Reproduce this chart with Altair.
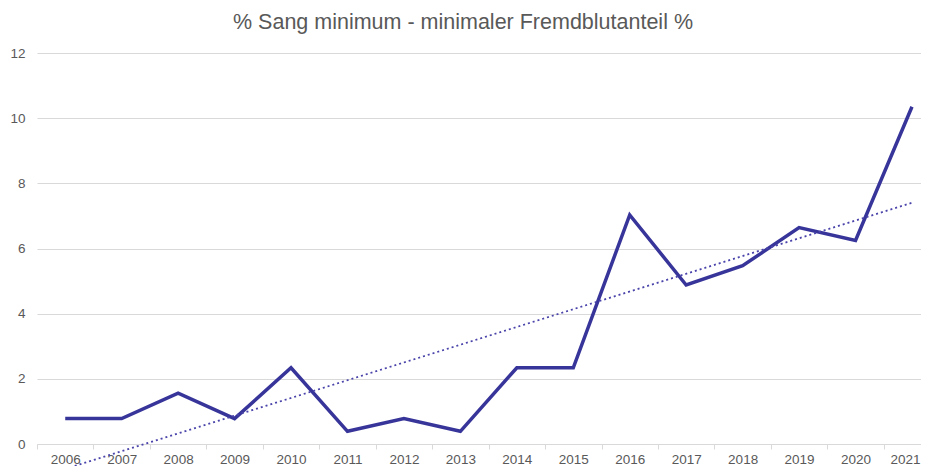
import altair as alt
import pandas as pd

years = list(range(2006, 2022))
values = [0.78, 0.78, 1.56, 0.78, 2.34, 0.39, 0.78, 0.39, 2.34, 2.34,
          7.03, 4.88, 5.47, 6.64, 6.25, 10.35]
y_ticks = [0, 2, 4, 6, 8, 10, 12]
chart_title = "% Sang minimum - minimaler Fremdblutanteil %"

df = pd.DataFrame({"year": years, "value": values})

FONT = "Liberation Sans"
GRAY = "#595959"
GRID = "#d9d9d9"
LINE = "#38359a"

W = 884
STEP = 56.45
HALF = STEP / 2

x_enc = alt.X(
    "year:Q",
    title=None,
    scale=alt.Scale(domain=[2005.5, 2005.5 + W / STEP], nice=False, zero=False),
    axis=alt.Axis(
        values=years, format="d", labelAngle=0, domainColor=GRID, tickColor=GRID,
        tickSize=5, labelColor=GRAY, labelFontSize=13.5, labelFont=FONT,
        labelPadding=3, grid=False, tickOffset=-HALF,
        labelOffset={"condition": {"test": "datum.value == 2021", "value": HALF - 7},
                     "value": HALF},
        labelFlush=False, labelOverlap=False,
    ),
)
y_enc = alt.Y(
    "value:Q",
    title=None,
    scale=alt.Scale(domain=[0, 12], nice=False, zero=False),
    axis=alt.Axis(
        values=y_ticks, domain=False, ticks=False, gridColor=GRID,
        labelColor=GRAY, labelFontSize=13.5, labelFont=FONT, labelPadding=12,
    ),
)

base = alt.Chart(df)

line = base.mark_line(color=LINE, strokeWidth=3.5, strokeJoin="miter").encode(
    x=x_enc, y=y_enc
)

trend = base.transform_regression("year", "value").mark_line(
    color="#4a44aa", strokeWidth=1.8, strokeDash=[2, 3]
).encode(x=x_enc, y=y_enc)

chart = (
    alt.layer(line, trend)
    .properties(
        width=W,
        height=391,
        title=alt.TitleParams(
            chart_title, font=FONT, fontSize=21.5, fontWeight="normal",
            color=GRAY, anchor="middle", offset=13, dx=-16,
        ),
        autosize=alt.AutoSizeParams(type="none"),
        padding={"left": 29, "top": 45, "right": 0, "bottom": 22},
    )
    .configure_view(stroke=None)
)

chart.save("out.html", embed_options={"renderer": "svg", "actions": False})
